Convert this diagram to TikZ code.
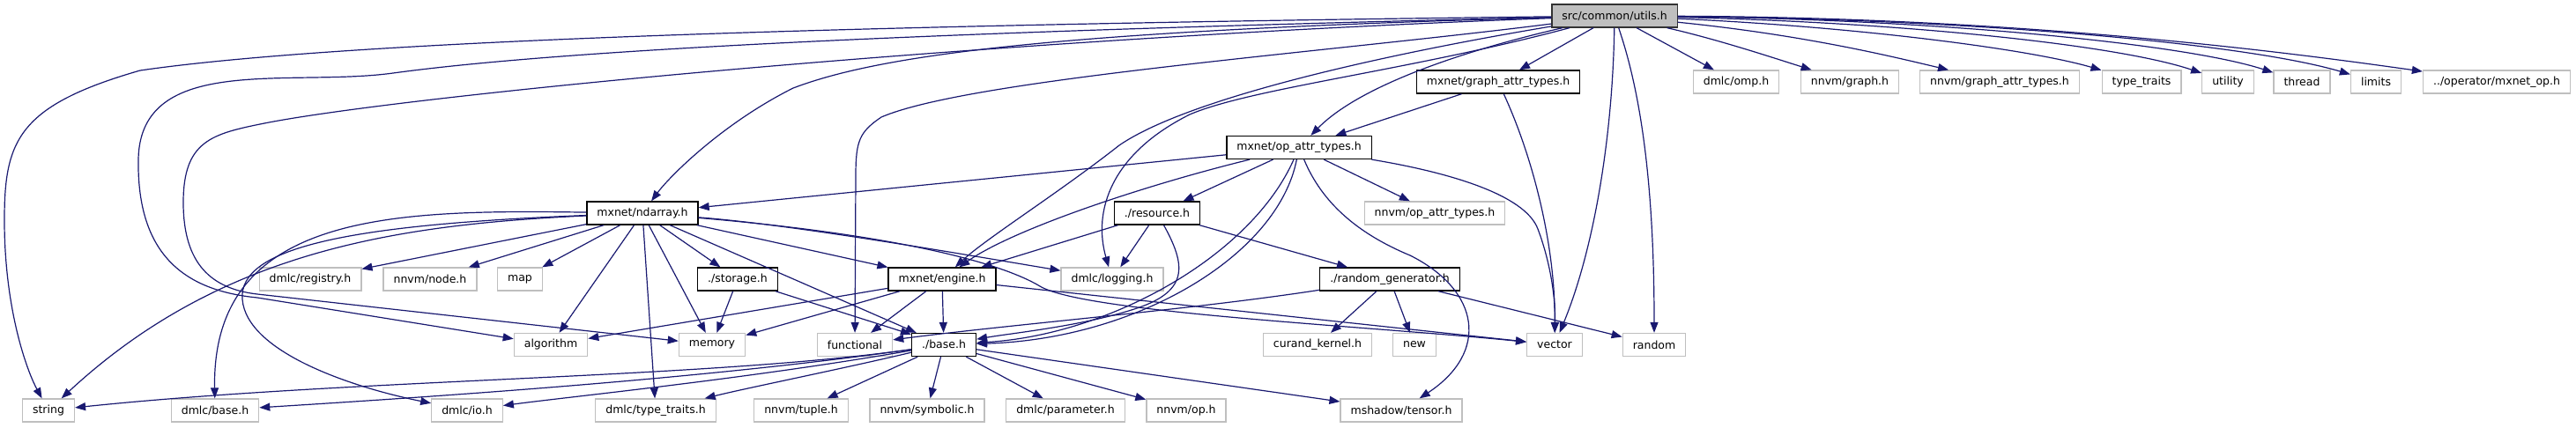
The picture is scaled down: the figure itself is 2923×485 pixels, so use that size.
\documentclass[tikz,border=0pt]{standalone}
\usepackage{fontspec}
\setmainfont{DejaVu Sans}
\usetikzlibrary{arrows.meta}
\definecolor{edgeblue}{HTML}{191970}
\definecolor{boxgray}{HTML}{BFBFBF}
\tikzset{%
  hdr/.style={rectangle,draw=#1,line width=1.3pt,fill=white,
    minimum height=26pt,inner xsep=11.5pt,inner ysep=0pt,
    font=\fontsize{12.5}{15}\selectfont},
  hdr/.default=black,
  syshdr/.style={hdr=boxgray},
  mainhdr/.style={hdr=black!80,fill=boxgray},
  incl/.style={line width=1.2pt,draw=edgeblue,
    -{Triangle[length=12pt,width=9pt,fill=edgeblue]}}
}

\begin{document}
\begin{tikzpicture}[x=1pt,y=-1pt]

    \useasboundingbox (0,0) rectangle (2923,485);

    % The file itself
    \node[mainhdr] (utils) at (1832,18) {src/common/utils.h};

    % First level of includes
    \node[hdr]    (grattr)     at (1700,93) {mxnet/graph\_attr\_types.h};
    \node[syshdr] (omp)        at (1970,93) {dmlc/omp.h};
    \node[syshdr] (nngraph)    at (2099,93) {nnvm/graph.h};
    \node[syshdr] (nngrattr)   at (2269,93) {nnvm/graph\_attr\_types.h};
    \node[syshdr] (typetraits) at (2430,93) {type\_traits};
    \node[syshdr] (utility)    at (2528,93) {utility};
    \node[syshdr] (thread)     at (2612,93) {thread};
    \node[syshdr] (limits)     at (2696,93) {limits};
    \node[syshdr] (mxop)       at (2833,93) {../operator/mxnet\_op.h};

    \node[hdr] (opattr) at (1474,167.5) {mxnet/op\_attr\_types.h};

    \node[hdr]    (ndarray)  at (729,242)  {mxnet/ndarray.h};
    \node[hdr]    (resource) at (1313,242) {./resource.h};
    \node[syshdr] (nnopattr) at (1628,242) {nnvm/op\_attr\_types.h};

    \node[syshdr] (registry) at (352,317)  {dmlc/registry.h};
    \node[syshdr] (nnnode)   at (488,317)  {nnvm/node.h};
    \node[syshdr] (map)      at (590,317)  {map};
    \node[hdr]    (storage)  at (837,317)  {./storage.h};
    \node[hdr]    (engine)   at (1069,317) {mxnet/engine.h};
    \node[syshdr] (logging)  at (1262,317) {dmlc/logging.h};
    \node[hdr]    (randgen)  at (1577,317) {./random\_generator.h};

    \node[syshdr] (algorithm)  at (625,391.5)  {algorithm};
    \node[syshdr] (memory)     at (808,391.5)  {memory};
    \node[syshdr] (functional) at (970,391.5)  {functional};
    \node[hdr]    (base)       at (1071,391.5) {./base.h};
    \node[syshdr] (curand)     at (1495,391.5) {curand\_kernel.h};
    \node[syshdr] (new)        at (1605,391.5) {new};
    \node[syshdr] (vector)     at (1764,391.5) {vector};
    \node[syshdr] (random)     at (1877,391.5) {random};

    % Bottom row
    \node[syshdr] (string)   at (55,466)   {string};
    \node[syshdr] (dmlcbase) at (244,466)  {dmlc/base.h};
    \node[syshdr] (dmlcio)   at (530,466)  {dmlc/io.h};
    \node[syshdr] (dtraits)  at (744,466)  {dmlc/type\_traits.h};
    \node[syshdr] (nntuple)  at (909,466)  {nnvm/tuple.h};
    \node[syshdr] (symbolic) at (1052,466) {nnvm/symbolic.h};
    \node[syshdr] (param)    at (1209,466) {dmlc/parameter.h};
    \node[syshdr] (nnop)     at (1346,466) {nnvm/op.h};
    \node[syshdr] (tensor)   at (1590,466) {mshadow/tensor.h};

    % utils.h -> right hand row
    \draw[incl] (utils) -- (grattr);
    \draw[incl] (utils) -- (omp);
    \draw[incl] (utils) .. controls (1950,45) and (2010,65) .. (nngraph);
    \draw[incl] (utils) .. controls (2050,40) and (2150,65) .. (nngrattr);
    \draw[incl] (utils) .. controls (2100,30) and (2300,55) .. (typetraits);
    \draw[incl] (utils) .. controls (2150,25) and (2400,50) .. (utility);
    \draw[incl] (utils) .. controls (2200,22) and (2480,50) .. (thread);
    \draw[incl] (utils) .. controls (2250,22) and (2550,50) .. (limits);
    \draw[incl] (utils) .. controls (2300,20) and (2600,60) .. (mxop);

    % utils.h -> the rest
    \draw[incl] (utils) .. controls (1650,60) and (1540,100) .. (opattr);
    \draw[incl] (utils) .. controls (1830,150) and (1810,280) .. (vector);
    \draw[incl] (utils) .. controls (1860,100) and (1877,200) .. (random);
    \draw[incl] (utils) .. controls (1580,60) and (1350,110) .. (1270,165)
        .. controls (1200,220) and (1120,270) .. (engine);
    \draw[incl] (utils) .. controls (1600,80) and (1420,100) .. (1350,130)
        .. controls (1260,175) and (1240,240) .. (logging);
    \draw[incl] (utils) .. controls (1500,60) and (1100,90) .. (1000,133)
        .. controls (975,150) and (971,160) .. (971,200) -- (functional);
    \draw[incl] (utils) .. controls (1200,35) and (1000,62) .. (900,100)
        .. controls (820,140) and (760,200) .. (ndarray);
    \draw[incl] (utils) .. controls (1100,45) and (450,110) .. (300,140)
        .. controls (240,152) and (208,160) .. (208,230)
        .. controls (208,300) and (240,328) .. (292,334) -- (memory);
    \draw[incl] (utils) .. controls (1100,35) and (650,55) .. (446,83)
        .. controls (330,99) and (160,60) .. (157,180)
        .. controls (155,290) and (210,330) .. (292,338) -- (algorithm);
    \draw[incl] (utils) .. controls (1000,28) and (400,45) .. (159,80)
        .. controls (20,120) and (5,160) .. (5,250)
        .. controls (5,350) and (30,420) .. (string);

    % graph_attr_types.h
    \draw[incl] (grattr) -- (opattr);
    \draw[incl] (grattr) .. controls (1740,180) and (1765,280) .. (vector);

    % op_attr_types.h
    \draw[incl] (opattr) -- (ndarray);
    \draw[incl] (opattr) -- (resource);
    \draw[incl] (opattr) -- (nnopattr);
    \draw[incl] (opattr) .. controls (1300,210) and (1150,260) .. (engine);
    \draw[incl] (opattr) .. controls (1420,290) and (1260,380) .. (base);
    \draw[incl] (opattr) .. controls (1450,290) and (1290,385) .. (base);
    \draw[incl] (opattr) .. controls (1500,230) and (1540,265) .. (1600,290)
        .. controls (1680,330) and (1690,400) .. (tensor);
    \draw[incl] (opattr) .. controls (1640,195) and (1730,220) .. (1745,260)
        .. controls (1760,300) and (1765,340) .. (vector);

    % ndarray.h
    \draw[incl] (ndarray) -- (registry);
    \draw[incl] (ndarray) -- (nnnode);
    \draw[incl] (ndarray) -- (map);
    \draw[incl] (ndarray) -- (algorithm);
    \draw[incl] (ndarray) -- (memory);
    \draw[incl] (ndarray) -- (storage);
    \draw[incl] (ndarray) -- (dtraits);
    \draw[incl] (ndarray) -- (base);
    \draw[incl] (ndarray) -- (engine);
    \draw[incl] (ndarray) .. controls (900,255) and (1100,290) .. (logging);
    \draw[incl] (ndarray) .. controls (1000,265) and (1130,295) .. (1180,325)
        .. controls (1230,355) and (1550,370) .. (vector);
    \draw[incl] (ndarray) .. controls (450,238) and (240,240) .. (dmlcbase);
    \draw[incl] (ndarray) .. controls (450,255) and (250,285) .. (string);
    \draw[incl] (ndarray) .. controls (400,255) and (270,280) .. (275,340)
        .. controls (280,400) and (400,440) .. (dmlcio);

    % resource.h
    \draw[incl] (resource) -- (engine);
    \draw[incl] (resource) -- (logging);
    \draw[incl] (resource) -- (randgen);
    \draw[incl] (resource) .. controls (1345,300) and (1350,330) .. (1290,350)
        .. controls (1230,370) and (1150,378) .. (base);

    % storage.h and engine.h
    \draw[incl] (storage) -- (memory);
    \draw[incl] (storage) -- (base);
    \draw[incl] (engine) -- (algorithm);
    \draw[incl] (engine) -- (memory);
    \draw[incl] (engine) -- (functional);
    \draw[incl] (engine) -- (base);
    \draw[incl] (engine) -- (vector);

    % random_generator.h
    \draw[incl] (randgen) .. controls (1350,352) and (1150,368) .. (functional);
    \draw[incl] (randgen) -- (curand);
    \draw[incl] (randgen) -- (new);
    \draw[incl] (randgen) -- (random);

    % base.h
    \draw[incl] (base) .. controls (800,430) and (400,430) .. (string);
    \draw[incl] (base) .. controls (800,430) and (500,450) .. (dmlcbase);
    \draw[incl] (base) .. controls (850,430) and (650,450) .. (dmlcio);
    \draw[incl] (base) .. controls (950,420) and (850,440) .. (dtraits);
    \draw[incl] (base) -- (nntuple);
    \draw[incl] (base) -- (symbolic);
    \draw[incl] (base) -- (param);
    \draw[incl] (base) -- (nnop);
    \draw[incl] (base) -- (tensor);

\end{tikzpicture}
\end{document}
